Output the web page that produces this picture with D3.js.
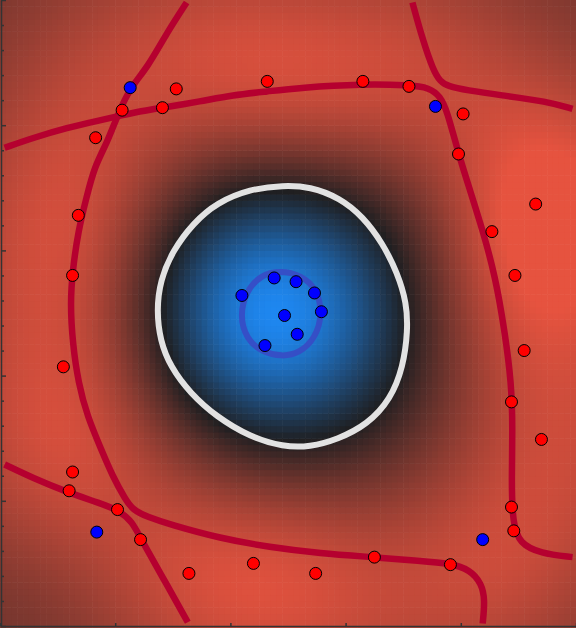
<!DOCTYPE html>
<html>
<head>
<meta charset="utf-8">
<script src="https://cdn.jsdelivr.net/npm/d3@7"></script>
<style>
  body { margin: 0; background: #fff; }
  svg { display: block; }
</style>
</head>
<body>
<div id="vis"></div>
<script>
const WIDTH = 576;
const HEIGHT = 628;

// training points (data units)
const redPoints = [
  [1.53, 4.29], [2.32, 4.35], [3.15, 4.35], [3.55, 4.31], [1.06, 4.12],
  [1.41, 4.14], [0.83, 3.90], [4.02, 4.09], [3.98, 3.77], [4.65, 3.37],
  [0.68, 3.28], [4.27, 3.15], [0.63, 2.80], [4.47, 2.80], [4.55, 2.20],
  [0.55, 2.07], [4.44, 1.79], [4.70, 1.49], [0.63, 1.23], [0.60, 1.08],
  [1.02, 0.93], [4.44, 0.95], [4.46, 0.76], [1.22, 0.69], [3.25, 0.55],
  [2.20, 0.50], [3.91, 0.49], [1.64, 0.42], [2.74, 0.42]
];
const outerBluePoints = [[1.13, 4.30], [3.78, 4.15], [0.84, 0.75], [4.19, 0.69]];
const coreBluePoints = [
  [2.38, 2.78], [2.57, 2.75], [2.73, 2.66], [2.10, 2.64],
  [2.79, 2.51], [2.47, 2.48], [2.58, 2.33], [2.30, 2.24]
];

// level -1 lines
const marginLines = [
  [[1.62, 4.98], [1.45, 4.74], [1.28, 4.46], [1.13, 4.30], [1.02, 4.08], [0.93, 3.86],
   [0.82, 3.67], [0.75, 3.42], [0.68, 3.16], [0.63, 2.84], [0.61, 2.58], [0.63, 2.26],
   [0.68, 1.94], [0.76, 1.67], [0.87, 1.43], [0.98, 1.19], [1.09, 1.01], [1.15, 0.93],
   [1.28, 0.87], [1.48, 0.81], [1.91, 0.70], [2.34, 0.63], [2.78, 0.58], [3.24, 0.55],
   [3.65, 0.52], [3.91, 0.50], [4.08, 0.45], [4.18, 0.34], [4.21, 0.21], [4.19, 0.02]],
  [[0.04, 3.82], [0.29, 3.90], [0.58, 3.98], [0.87, 4.04], [1.02, 4.07], [1.15, 4.10],
   [1.41, 4.14], [1.74, 4.19], [2.02, 4.24], [2.32, 4.27], [2.60, 4.30], [3.15, 4.33],
   [3.55, 4.32], [3.73, 4.30], [3.82, 4.23], [3.88, 4.12], [3.98, 3.77], [4.08, 3.48],
   [4.19, 3.16], [4.30, 2.79], [4.38, 2.36], [4.44, 1.94], [4.45, 1.57], [4.44, 1.17],
   [4.45, 0.82], [4.51, 0.66], [4.69, 0.58], [4.97, 0.55]],
  [[3.58, 4.98], [3.67, 4.68], [3.76, 4.44], [3.82, 4.35], [3.89, 4.31], [4.05, 4.28],
   [4.34, 4.24], [4.75, 4.19], [4.97, 4.13]],
  [[0.04, 1.29], [0.29, 1.18], [0.58, 1.07], [0.87, 0.98], [1.04, 0.92], [1.15, 0.83],
   [1.22, 0.70], [1.43, 0.36], [1.63, 0.03]]
];
// level 0 line
const boundaryLoop = [
  [2.46, 3.52], [2.17, 3.49], [1.88, 3.38], [1.68, 3.22], [1.50, 3.00], [1.39, 2.76],
  [1.36, 2.52], [1.39, 2.28], [1.48, 2.07], [1.65, 1.86], [1.88, 1.67], [2.17, 1.51],
  [2.46, 1.43], [2.69, 1.43], [2.93, 1.49], [3.19, 1.61], [3.39, 1.81], [3.50, 2.07],
  [3.54, 2.36], [3.53, 2.58], [3.45, 2.82], [3.32, 3.06], [3.15, 3.27], [2.95, 3.42],
  [2.69, 3.51]
];
// level +1 line
const innerMarginLoop = [
  [2.43, 2.84], [2.62, 2.80], [2.75, 2.69], [2.80, 2.50], [2.74, 2.30], [2.60, 2.18],
  [2.45, 2.15], [2.27, 2.19], [2.14, 2.29], [2.08, 2.48], [2.14, 2.68], [2.26, 2.80]
];
// shade levels estimated from the background colour: [x, y, level]
const levelAnchors = [
  [0.05, 4.95, -0.45], [0.05, 0.05, -0.35], [4.95, 4.95, -0.55], [4.95, 0.05, -0.8],
  [4.75, 2.7, -1.3], [0.2, 2.6, -1.3], [2.5, 4.8, -1.25], [2.6, 0.15, -1.25],
  [2.47, 2.52, 1.35]
];

const xTickValues = [0, 1, 2, 3, 4, 5];
const yTickValues = d3.range(0, 5.001, 0.2);

const x = d3.scaleLinear().domain([0, 5]).range([0, WIDTH]);
const y = d3.scaleLinear().domain([0, 5]).range([626, 0]);

// ------------------------------------------------------------
// background: rbf expansion on the training points, fitted so
// that its levels follow the drawn lines
// ------------------------------------------------------------
const KERNEL = 15000;
const RIDGE = 0.02;
const toPx = (d) => [x(d[0]), y(d[1])];
const centers = [...redPoints, ...outerBluePoints, ...coreBluePoints].map(toPx);

const features = (px, py) => [
  1,
  ...centers.map((c) => Math.exp(-((px - c[0]) ** 2 + (py - c[1]) ** 2) / KERNEL))
];

const samples = [];
marginLines.forEach((l) => l.forEach((d) => samples.push([d[0], d[1], -1])));
boundaryLoop.forEach((d) => samples.push([d[0], d[1], 0]));
innerMarginLoop.forEach((d) => samples.push([d[0], d[1], 1]));
levelAnchors.forEach((d) => samples.push(d));

function solve(A, b) {
  const n = b.length;
  const M = A.map((row, i) => [...row, b[i]]);
  for (let c = 0; c < n; c++) {
    let p = c;
    for (let r = c + 1; r < n; r++) if (Math.abs(M[r][c]) > Math.abs(M[p][c])) p = r;
    [M[c], M[p]] = [M[p], M[c]];
    for (let r = c + 1; r < n; r++) {
      const f = M[r][c] / M[c][c];
      for (let k = c; k <= n; k++) M[r][k] -= f * M[c][k];
    }
  }
  const w = new Array(n).fill(0);
  for (let r = n - 1; r >= 0; r--) {
    let s = M[r][n];
    for (let k = r + 1; k < n; k++) s -= M[r][k] * w[k];
    w[r] = s / M[r][r];
  }
  return w;
}

const m = centers.length + 1;
const AtA = d3.range(m).map(() => new Array(m).fill(0));
const Atb = new Array(m).fill(0);
samples.forEach((s) => {
  const phi = features(x(s[0]), y(s[1]));
  for (let i = 0; i < m; i++) {
    Atb[i] += phi[i] * s[2];
    for (let j = 0; j < m; j++) AtA[i][j] += phi[i] * phi[j];
  }
});
for (let i = 1; i < m; i++) AtA[i][i] += RIDGE;
const weights = solve(AtA, Atb);

const decision = (px, py) => d3.sum(features(px, py), (v, i) => v * weights[i]);

const DARK = "#1f1f21";
const toBlue = d3.interpolateRgb(DARK, "#1e88f2");
const toRed = d3.interpolateRgb(DARK, "#e6533f");
function color(v) {
  if (v >= 0) return toBlue(Math.min(v / 1.25, 1));
  return toRed(Math.min(-v / 1.2, 1));
}

const svg = d3
  .select("#vis")
  .append("svg")
  .attr("width", WIDTH)
  .attr("height", HEIGHT);

// background cells
const STEP = 0.05;
const cells = [];
d3.range(0, 100).forEach((i) => {
  d3.range(-1, 100).forEach((j) => {
    const cx = (i + 0.5) * STEP, cy = (j + 0.5) * STEP;
    cells.push({ i, j, v: decision(x(cx), y(cy)) });
  });
});

svg
  .append("g")
  .selectAll("rect")
  .data(cells)
  .join("rect")
  .attr("x", (d) => x(d.i * STEP))
  .attr("y", (d) => y((d.j + 1) * STEP))
  .attr("width", x(STEP) - x(0) + 0.6)
  .attr("height", y(0) - y(STEP) + 0.6)
  .attr("fill", (d) => color(d.v));

const line = d3
  .line()
  .x((d) => x(d[0]))
  .y((d) => y(d[1]))
  .curve(d3.curveBasis);
const loop = d3
  .line()
  .x((d) => x(d[0]))
  .y((d) => y(d[1]))
  .curve(d3.curveBasisClosed);

svg
  .append("g")
  .selectAll("path")
  .data(marginLines)
  .join("path")
  .attr("d", line)
  .attr("fill", "none")
  .attr("stroke", "#b5002f")
  .attr("stroke-width", 6.5);

svg
  .append("path")
  .datum(boundaryLoop)
  .attr("d", loop)
  .attr("fill", "none")
  .attr("stroke", "#e2e2e2")
  .attr("stroke-width", 6);

svg
  .append("path")
  .datum(innerMarginLoop)
  .attr("d", loop)
  .attr("fill", "none")
  .attr("stroke", "#3a48c4")
  .attr("stroke-opacity", 0.85)
  .attr("stroke-width", 6);

// axes
const yAxis = svg
  .append("g")
  .attr("transform", "translate(1,0)")
  .call(
    d3.axisRight(y)
      .tickValues(yTickValues)
      .tickSize(3)
      .tickSizeOuter(0)
      .tickFormat("")
  );
yAxis.selectAll(".tick line")
  .attr("x2", (d) => (Math.abs(d - Math.round(d)) < 1e-6 ? 5 : 3));

svg
  .append("g")
  .attr("transform", "translate(0,626)")
  .call(d3.axisTop(x).tickValues(xTickValues).tickSize(3).tickSizeOuter(0).tickFormat(""));

svg.selectAll(".domain, .tick line").attr("stroke", "#333").attr("stroke-width", 1.5);

// points
const pts = [
  ...redPoints.map((d) => ({ d, c: "#ff0000" })),
  ...outerBluePoints.map((d) => ({ d, c: "#0000ff" })),
  ...coreBluePoints.map((d) => ({ d, c: "#0000ff" }))
];
svg
  .append("g")
  .selectAll("circle")
  .data(pts)
  .join("circle")
  .attr("cx", (p) => x(p.d[0]))
  .attr("cy", (p) => y(p.d[1]))
  .attr("r", 6)
  .attr("fill", (p) => p.c)
  .attr("stroke", "#000")
  .attr("stroke-width", 1);
</script>
</body>
</html>
